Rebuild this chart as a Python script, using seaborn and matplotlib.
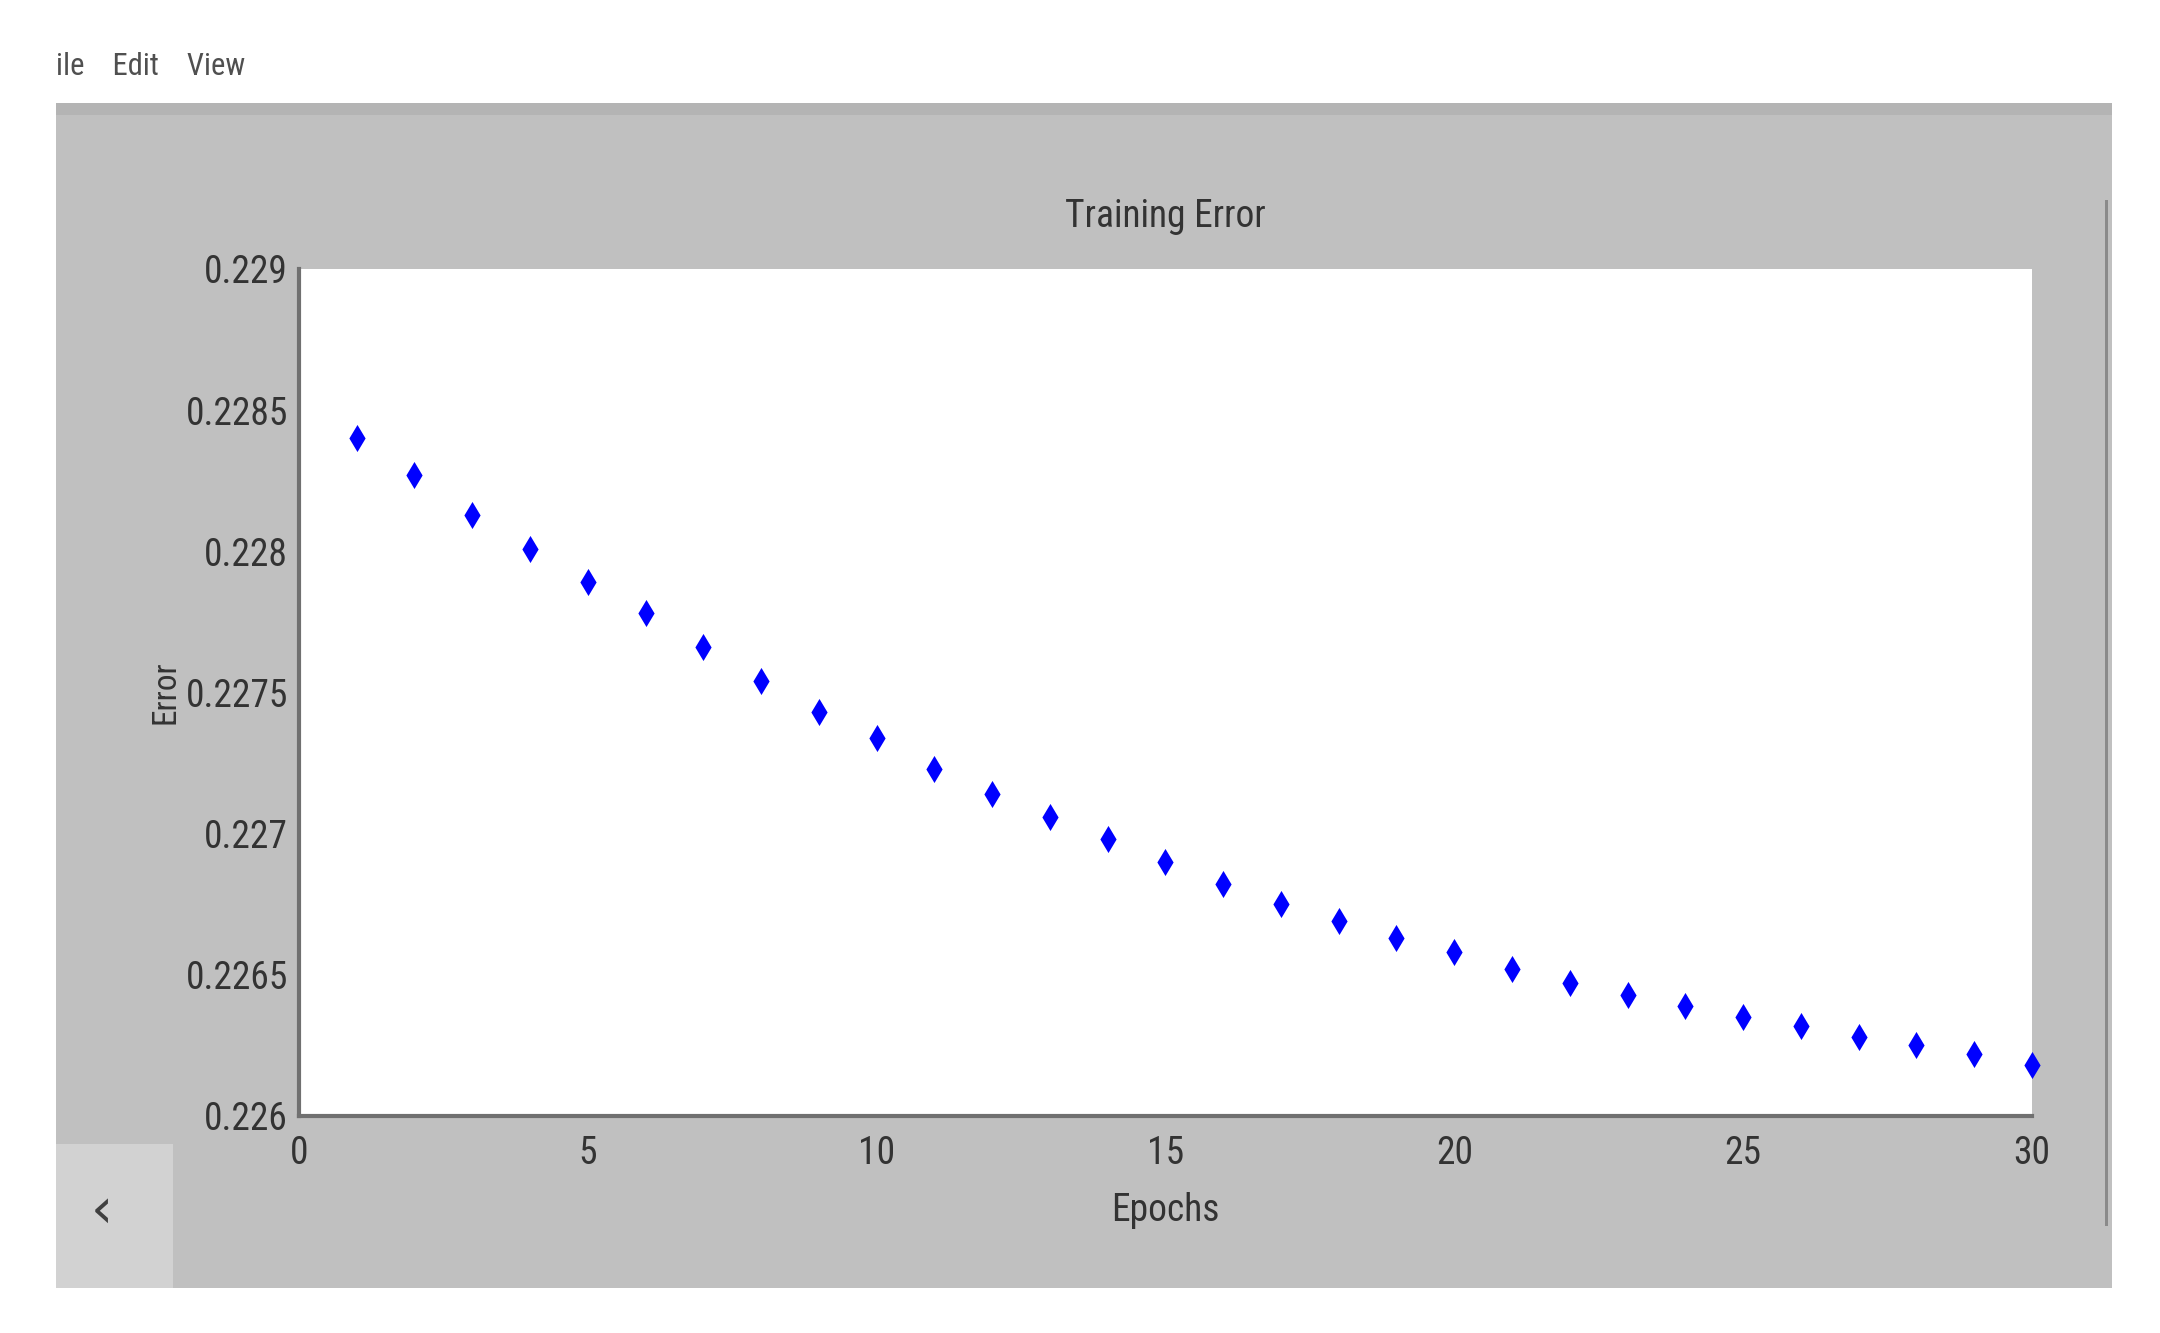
import numpy as np
import pandas as pd
import matplotlib
matplotlib.use("Agg")
import matplotlib.pyplot as plt
from matplotlib import font_manager
from matplotlib.patches import Rectangle
import seaborn as sns

# values
epochs = list(range(1, 31))
errors = [0.22840, 0.22827, 0.22813, 0.22801, 0.22789, 0.22778, 0.22766, 0.22754,
          0.22743, 0.22734, 0.22723, 0.22714, 0.22706, 0.22698, 0.22690, 0.22682,
          0.22675, 0.22669, 0.22663, 0.22658, 0.22652, 0.22647, 0.22643, 0.22639,
          0.22635, 0.22632, 0.22628, 0.22625, 0.22622, 0.22618]
x_ticks = [0, 5, 10, 15, 20, 25, 30]
y_ticks = [0.226, 0.2265, 0.227, 0.2275, 0.228, 0.2285, 0.229]
y_labels = ["0.226", "0.2265", "0.227", "0.2275", "0.228", "0.2285", "0.229"]


def pick_font(names):
    for n in names:
        try:
            font_manager.findfont(n, fallback_to_default=False)
            return n
        except Exception:
            pass
    return "DejaVu Sans"


sns.set_style("white")
narrow = pick_font(["Liberation Sans Narrow", "Roboto Condensed", "Liberation Sans"])
plt.rcParams["font.family"] = [narrow, "DejaVu Sans"]

df = pd.DataFrame({"Epochs": epochs, "Error": errors})

fig = plt.figure(figsize=(21.6, 13.33), dpi=100)
fig.patch.set_facecolor("white")

# MATLAB window chrome (drawn behind the axes)
fig.patches.append(Rectangle((0.026, 0.034), 0.952, 0.889, transform=fig.transFigure,
                             facecolor="#c0c0c0", edgecolor="none", zorder=-3))
fig.patches.append(Rectangle((0.026, 0.914), 0.952, 0.009, transform=fig.transFigure,
                             facecolor="#b4b4b4", edgecolor="none", zorder=-2))
fig.patches.append(Rectangle((0.026, 0.034), 0.054, 0.108, transform=fig.transFigure,
                             facecolor="#d2d2d2", edgecolor="none", zorder=-2))
fig.patches.append(Rectangle((0.9745, 0.08), 0.0015, 0.77, transform=fig.transFigure,
                             facecolor="#8a8a8a", edgecolor="none", zorder=-2))
fig.text(0.047, 0.091, "\u2039", fontsize=40, color="#404040", ha="center", va="center",
         family="DejaVu Sans")
fig.text(0.026, 0.950, "ile    Edit    View", fontsize=22, color="#505050",
         ha="left", va="center")

ax = fig.add_axes([0.1384, 0.1628, 0.8023, 0.6354])
ax.set_facecolor("white")
sns.scatterplot(data=df, x="Epochs", y="Error", ax=ax, marker="d", color="#0000ff",
                s=190, linewidth=0, clip_on=False, zorder=3)

ax.set_xlim(0, 30)
ax.set_ylim(0.226, 0.229)
ax.set_xticks(x_ticks)
ax.set_yticks(y_ticks)
ax.set_yticklabels(y_labels)
for side in ["top", "right"]:
    ax.spines[side].set_visible(False)
for side in ["left", "bottom"]:
    ax.spines[side].set_color("#707070")
    ax.spines[side].set_linewidth(3)
ax.tick_params(axis="both", direction="in", length=12, width=2, color="#707070",
               labelsize=27, labelcolor="#333333")
ax.tick_params(axis="x", pad=14)
ax.tick_params(axis="y", pad=8)

ax.set_title("Training Error", fontsize=27, color="#333333", pad=30)
ax.set_xlabel("Epochs", fontsize=27, color="#333333", labelpad=14)
ax.set_ylabel("Error", fontsize=24, color="#333333")
ax.yaxis.set_label_coords(-0.068, 0.5)

fig.savefig("out.png", dpi=100)
